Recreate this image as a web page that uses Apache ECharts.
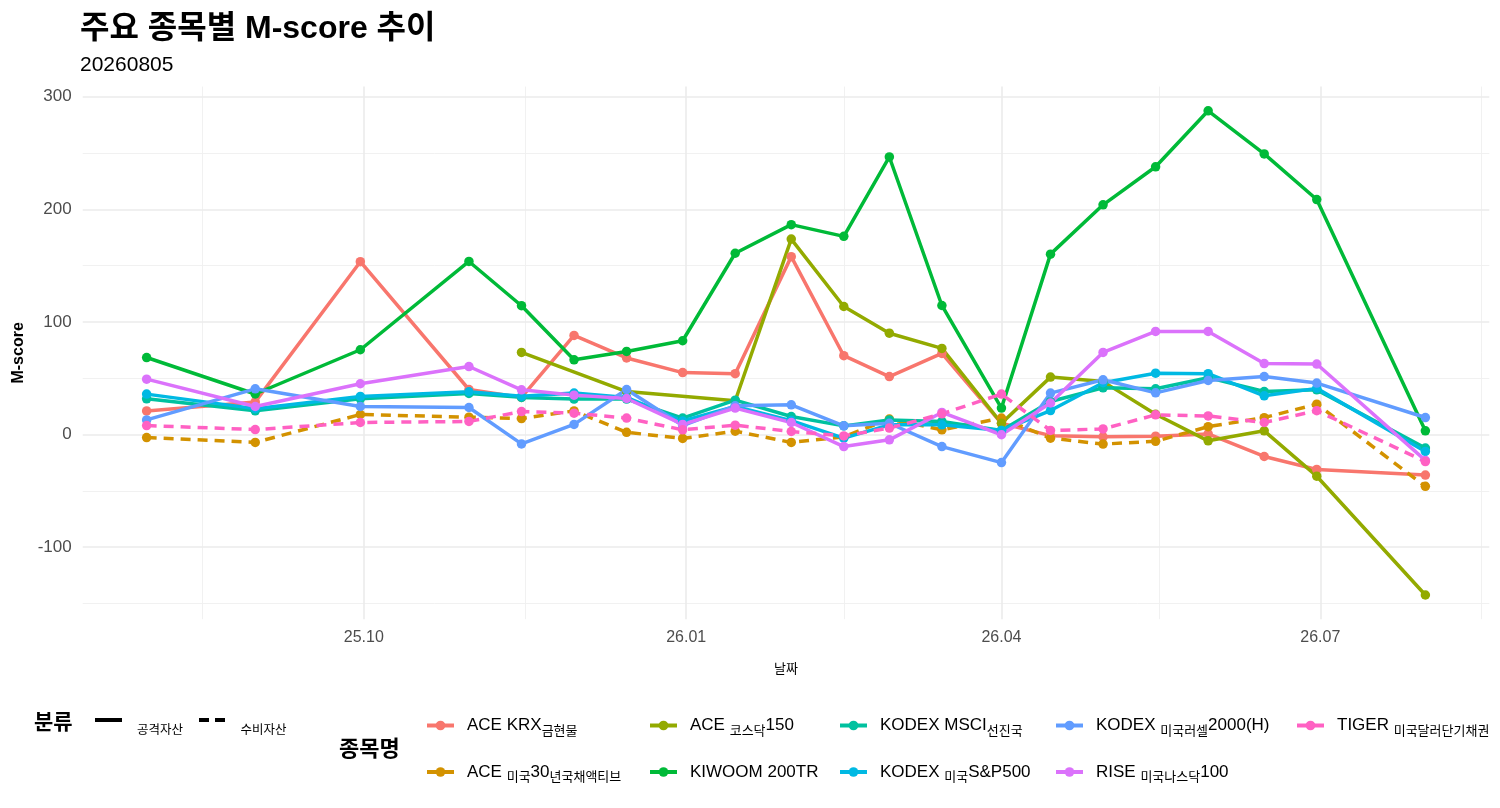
<!DOCTYPE html>
<html>
<head>
<meta charset="utf-8">
<title>주요 종목별 M-score 추이</title>
<script src="https://cdn.jsdelivr.net/npm/echarts@6/dist/echarts.min.js"></script>
<style>
  html, body { margin: 0; padding: 0; background: #fff; }
  #chart { width: 1500px; height: 808px; }
</style>
</head>
<body>
<div id="chart"></div>
<script>
// 기준일 (월말 / 월중)
const dates = ['2025-07-31', '2025-08-31', '2025-09-30', '2025-10-31', '2025-11-15', '2025-11-30',
  '2025-12-15', '2025-12-31', '2026-01-15', '2026-01-31', '2026-02-15', '2026-02-28', '2026-03-15',
  '2026-04-01', '2026-04-15', '2026-04-30', '2026-05-15', '2026-05-30', '2026-06-15', '2026-06-30',
  '2026-07-31'];

// 축 눈금
const xTicks = ['2025-10-01', '2026-01-01', '2026-04-01', '2026-07-01'];
const xMinorTicks = ['2025-08-16', '2025-11-16', '2026-02-15', '2026-05-16', '2026-08-16'];
const yTicks = [-100, 0, 100, 200, 300];
const yMinorTicks = [-150, -50, 50, 150, 250];

// 종목별 M-score
const aceGold = [21, 29, 153.5, 40, 33, 88, 68, 55, 54, 158, 70, 51.5, 72, 10, -1, -2, -1.5, 0.5, -19.5, -31, -36];
const ace30y = [-2.7, -7, 17.8, 15.4, 14.2, 21, 2, -3.5, 3, -7, -2, 13.7, 4.2, 14.6, -3.2, -8.5, -6, 7, 15, 27, -46];
const aceKosdaq = [null, null, null, null, 72.9, null, 38.2, null, 30, 173.6, 113.7, 90, 76.5, 10, 51, 47, 18, -5.6, 3.3, -37, -142.5];
const kiwoom200 = [68.4, 36, 75.3, 153.7, 114.4, 66.4, 73.8, 83.3, 161, 186.4, 176, 246.5, 114.6, 23.5, 160.2, 204, 237.8, 287.5, 249.2, 208.7, 3.3];
const kodexMsci = [31.7, 21.1, 31.7, 36.5, 33, 31.5, 31.5, 14.6, 30.5, 16, 7.7, 13, 11.6, 3.5, 29.3, 41.5, 40.6, 50.5, 38.2, 39.7, -12];
const kodexSp500 = [35.9, 23, 33.8, 38, 34, 36.8, 33, 12, 25, 12.4, -3.2, 8.6, 8.6, 3.6, 21.3, 46, 54.5, 54, 34.4, 41, -15];
const kodexR2000 = [13, 40.6, 24.9, 24, -8.3, 9, 40, 8, 25.5, 26.4, 7.7, 10, -10.7, -24.9, 36.8, 48.6, 37, 48, 51.5, 45.7, 15.1];
const riseNasdaq = [49.2, 24.9, 45.1, 60.4, 39.7, 35, 32, 9, 23.5, 10.7, -10.7, -4.7, 19.6, -0.2, 28, 72.9, 91.6, 91.6, 63, 62.6, -23];
const tigerUsd = [8, 4.4, 10.7, 11.6, 20.4, 19, 14.6, 4.2, 8.3, 2.7, -1.2, 5.7, 18.4, 35.9, 3.6, 5, 17.5, 16.5, 10.7, 21.2, -24];

const names = ['ACE KRX금현물', 'ACE 미국30년국채액티브', 'ACE 코스닥150', 'KIWOOM 200TR', 'KODEX MSCI선진국',
  'KODEX 미국S&P500', 'KODEX 미국러셀2000(H)', 'RISE 미국나스닥100', 'TIGER 미국달러단기채권'];
const groups = ['공격자산', '수비자산', '공격자산', '공격자산', '공격자산', '공격자산', '공격자산', '공격자산', '수비자산'];
const colors = ['#F8766D', '#D39200', '#93AA00', '#00BA38', '#00C19F', '#00B9E3', '#619CFF', '#DB72FB', '#FF61C3'];
const seriesValues = [aceGold, ace30y, aceKosdaq, kiwoom200, kodexMsci, kodexSp500, kodexR2000, riseNasdaq, tigerUsd];

const LATIN = "'Liberation Sans', Arial, sans-serif";
const KR = "'Noto Sans CJK KR', sans-serif";

function ts(s) {
  const p = s.split('-').map(Number);
  return new Date(p[0], p[1] - 1, p[2]).getTime();
}

// ggplot 처럼 5% 여백
const xs = dates.map(ts);
const xPad = (xs[xs.length - 1] - xs[0]) * 0.05;
const allVals = seriesValues.flat().filter(v => v !== null);
const yLo = Math.min(...allVals), yHi = Math.max(...allVals);
const yPad = (yHi - yLo) * 0.05;

// 한글은 작게 (원본 렌더링)
function richName(name) {
  return name.split(/([가-힣]+)/).filter(s => s).map(s =>
    /[가-힣]/.test(s) ? '{k|' + s + '}' : '{a|' + s + '}').join('');
}
const legendRich = {
  a: { fontFamily: LATIN, fontSize: 17, color: '#000', lineHeight: 22 },
  k: { fontFamily: KR, fontSize: 13, color: '#000', lineHeight: 20, verticalAlign: 'bottom' }
};
const groupRich = {
  s: { fontSize: 1, lineHeight: 30, width: 0 },
  k: { fontFamily: KR, fontSize: 12.5, color: '#000', lineHeight: 14, verticalAlign: 'bottom' }
};

const majorLine = { color: '#EBEBEB', width: 1.6, type: 'solid' };
const minorLine = { color: '#EFEFEF', width: 0.9, type: 'solid' };
const gridMarks = [].concat(
  yMinorTicks.map(v => ({ yAxis: v, lineStyle: minorLine })),
  xMinorTicks.map(d => ({ xAxis: ts(d), lineStyle: minorLine })),
  yTicks.map(v => ({ yAxis: v, lineStyle: majorLine })),
  xTicks.map(d => ({ xAxis: ts(d), lineStyle: majorLine }))
);

const series = names.map((name, i) => {
  const s = {
    name: name,
    type: 'line',
    data: dates.map((d, j) => [ts(d), seriesValues[i][j]]).filter(p => p[1] !== null),
    color: colors[i],
    symbol: 'circle',
    symbolSize: 9.5,
    showSymbol: true,
    lineStyle: { width: 3.5, type: groups[i] === '수비자산' ? [10, 7] : 'solid' },
    itemStyle: { color: colors[i] },
    emphasis: { disabled: true },
    z: 2
  };
  if (i === 0) {
    s.markLine = {
      z: 1, silent: true, animation: false, symbol: ['none', 'none'],
      label: { show: false }, emphasis: { disabled: true },
      data: gridMarks
    };
  }
  return s;
});
// 분류 범례용
series.push({ name: '공격자산', type: 'line', data: [], color: '#000', lineStyle: { color: '#000' } });
series.push({ name: '수비자산', type: 'line', data: [], color: '#000', lineStyle: { color: '#000', type: [9, 7] } });

const legendCols = [[0, 1], [2, 3], [4, 5], [6, 7], [8]];
const legendLefts = [425, 648, 838, 1054, 1295];
const legends = legendCols.map((col, i) => ({
  orient: 'vertical',
  left: legendLefts[i],
  top: 717,
  padding: 0,
  itemWidth: 27,
  itemHeight: 12,
  itemGap: 27,
  selectedMode: false,
  data: col.map(j => names[j]),
  lineStyle: { width: 4, type: 'solid' },
  itemStyle: { borderWidth: 0 },
  formatter: richName,
  textStyle: { padding: [0, 0, 0, 8], rich: legendRich }
}));
legends.push({
  orient: 'horizontal',
  left: 95,
  top: 718,
  padding: 0,
  itemWidth: 27,
  itemHeight: 4,
  itemGap: 16,
  selectedMode: false,
  data: [
    { name: '공격자산', icon: 'path://M0 0H27V4H0Z' },
    { name: '수비자산', icon: 'path://M0 0H10V4H0Z M16 0H26V4H16Z' }
  ],
  formatter: n => '{s| }{k|' + n + '}',
  textStyle: { padding: [0, 0, 0, 10], rich: groupRich }
});

const chart = echarts.init(document.getElementById('chart'));
chart.setOption({
  animation: false,
  backgroundColor: '#fff',
  title: [
    {
      text: '주요 종목별 M-score 추이',
      subtext: '20260805',
      left: 75, top: 8, itemGap: 10,
      textStyle: { fontFamily: LATIN + ", 'Noto Sans CJK KR'", fontSize: 32, fontWeight: 'bold', color: '#000' },
      subtextStyle: { fontFamily: LATIN, fontSize: 21, color: '#000' }
    },
    { text: '분류', left: 29, top: 706, textStyle: { fontFamily: KR, fontSize: 21, fontWeight: 'bold', color: '#000' } },
    { text: '종목명', left: 334, top: 732, textStyle: { fontFamily: KR, fontSize: 22, fontWeight: 'bold', color: '#000' } }
  ],
  tooltip: { trigger: 'axis' },
  legend: legends,
  grid: { left: 82.7, right: 10.7, top: 86.6, bottom: 188.8, outerBoundsMode: 'none' },
  xAxis: {
    type: 'value',
    min: xs[0] - xPad,
    max: xs[xs.length - 1] + xPad,
    name: '날짜',
    nameLocation: 'middle',
    nameGap: 42,
    nameTextStyle: { fontFamily: KR, fontSize: 13, color: '#000' },
    axisLine: { show: false },
    axisTick: { show: false },
    splitLine: { show: false },
    axisLabel: {
      customValues: xTicks.map(ts),
      margin: 10,
      fontFamily: LATIN, fontSize: 16, color: '#4D4D4D',
      formatter: v => {
        const d = new Date(v);
        return String(d.getFullYear()).slice(2) + '.' + String(d.getMonth() + 1).padStart(2, '0');
      }
    }
  },
  yAxis: {
    type: 'value',
    min: yLo - yPad,
    max: yHi + yPad,
    name: 'M-score',
    nameLocation: 'middle',
    nameRotate: 90,
    nameGap: 56,
    nameTextStyle: { fontFamily: LATIN, fontSize: 16, fontWeight: 'bold', color: '#000' },
    axisLine: { show: false },
    axisTick: { show: false },
    splitLine: { show: false },
    axisLabel: {
      customValues: yTicks,
      margin: 11,
      fontFamily: LATIN, fontSize: 17, color: '#4D4D4D'
    }
  },
  series: series
});
</script>
</body>
</html>
